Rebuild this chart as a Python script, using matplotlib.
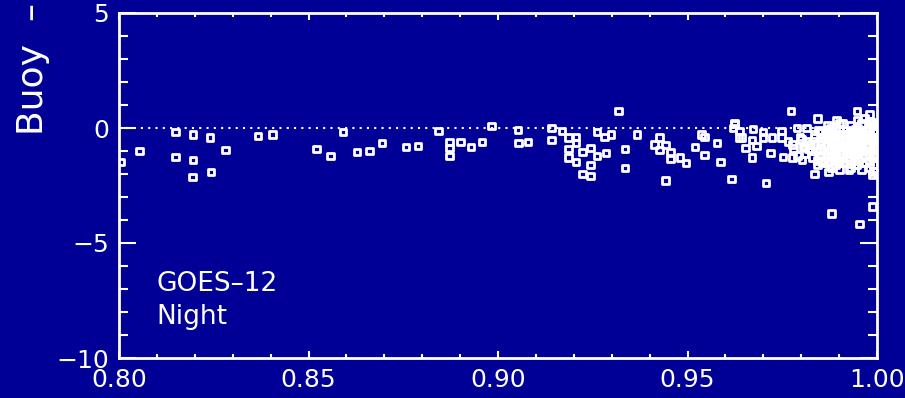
import matplotlib
matplotlib.use("Agg")
import matplotlib.pyplot as plt
from matplotlib.ticker import MultipleLocator, FormatStrFormatter


BG = "#000096"
FG = "white"

# scattered points (x = clear-sky fraction, y = buoy - sat)
x_sparse = [
    0.8150, 0.8195, 0.8240, 0.8367, 0.8406, 0.8055, 0.8005, 0.8150, 0.8195, 0.8282,
    0.8243, 0.8193, 0.8522, 0.8557,
    0.8591, 0.8844, 0.8982, 0.9053, 0.8628, 0.8660, 0.8694, 0.8757, 0.8789, 0.8873,
    0.8873, 0.8873, 0.8902, 0.8929, 0.8958, 0.9055, 0.9079,
    0.9317, 0.9142, 0.9169, 0.9142, 0.9185, 0.9206, 0.9206, 0.9185, 0.9224, 0.9245,
    0.9185, 0.9206, 0.9261, 0.9282, 0.9298, 0.9261, 0.9285, 0.9245, 0.9224, 0.9245,
    0.9335, 0.9335, 0.9367, 0.9427, 0.9412, 0.9441, 0.9427, 0.9456, 0.9456, 0.9480,
    0.9496, 0.9441, 0.9536, 0.9544, 0.9520, 0.9544, 0.9578, 0.9588, 0.9617, 0.9623,
    0.9620, 0.9636,
    0.9773, 0.9844, 0.9947, 0.9625, 0.9638, 0.9644, 0.9652, 0.9673, 0.9670, 0.9681,
    0.9699, 0.9699, 0.9723, 0.9749, 0.9749, 0.9720, 0.9670, 0.9752, 0.9776, 0.9776,
    0.9789, 0.9797, 0.9815, 0.9810, 0.9802, 0.9836, 0.9842, 0.9836, 0.9876, 0.9894,
    0.9902, 0.9871, 0.9887, 0.9947, 0.9966, 0.9981, 0.9989, 0.9926, 0.9947, 0.9987,
    0.9707, 0.9879, 0.9953, 0.9989,
]
y_sparse = [
    -0.17, -0.30, -0.43, -0.35, -0.30, -1.00, -1.48, -1.26, -1.39, -0.96,
    -1.91, -2.13, -0.91, -1.22,
    -0.17, -0.13, 0.09, -0.09, -1.04, -1.00, -0.65, -0.83, -0.78, -0.61,
    -0.87, -1.22, -0.61, -0.83, -0.61, -0.65, -0.61,
    0.74, 0.00, -0.13, -0.52, -0.43, -0.39, -0.65, -0.91, -1.04, -0.87,
    -1.30, -1.48, -0.17, -0.39, -0.30, -1.22, -1.09, -1.61, -2.00, -2.09,
    -0.91, -1.74, -0.30, -0.43, -0.70, -0.74, -0.96, -1.04, -1.35, -1.30,
    -1.52, -2.30, -0.30, -0.39, -0.83, -1.17, -0.65, -1.48, -2.22, 0.17,
    0.00, -0.43,
    0.74, 0.43, 0.74, 0.22, -0.13, -0.43, -0.87, -0.04, -0.52, -0.78,
    -0.17, -0.43, -0.43, -0.13, -0.43, -1.09, -1.30, -1.26, -1.30, -0.70,
    0.00, -0.39, 0.00, -0.83, -1.39, -0.30, -1.61, -2.00, 0.00, 0.35,
    0.22, -1.91, -1.09, 0.35, 0.43, 0.57, 0.26, -1.83, -1.61, -2.04,
    -2.39, -3.70, -4.17, -3.43,
]

# dense cluster near full clear-sky fraction
x_dense = [
    0.9765, 0.9780, 0.9800, 0.9810, 0.9825, 0.9830, 0.9835, 0.9840, 0.9845,
    0.9790, 0.9805, 0.9815, 0.9820, 0.9828, 0.9838, 0.9842,
    0.9850, 0.9850, 0.9850, 0.9850, 0.9853, 0.9856,
    0.9860, 0.9860, 0.9860, 0.9864, 0.9866,
    0.9870, 0.9870, 0.9870, 0.9870, 0.9870, 0.9874, 0.9876,
    0.9880, 0.9880, 0.9880, 0.9880, 0.9880, 0.9884, 0.9886,
    0.9890, 0.9890, 0.9890, 0.9890, 0.9890, 0.9894, 0.9896,
    0.9900, 0.9900, 0.9900, 0.9900, 0.9900, 0.9904, 0.9906,
    0.9910, 0.9910, 0.9910, 0.9910, 0.9910, 0.9914, 0.9916,
    0.9920, 0.9920, 0.9920, 0.9920, 0.9924, 0.9926, 0.9925,
    0.9930, 0.9930, 0.9930, 0.9930, 0.9930, 0.9930, 0.9934,
    0.9940, 0.9940, 0.9940, 0.9940, 0.9943, 0.9945, 0.9946,
    0.9950, 0.9950, 0.9950, 0.9950, 0.9950, 0.9954, 0.9956,
    0.9960, 0.9960, 0.9960, 0.9960, 0.9960, 0.9960, 0.9964,
    0.9970, 0.9970, 0.9970, 0.9970, 0.9970, 0.9974, 0.9976,
    0.9980, 0.9980, 0.9980, 0.9980, 0.9980, 0.9980, 0.9980, 0.9984,
    0.9990, 0.9990, 0.9990, 0.9990, 0.9990, 0.9990, 0.9990, 0.9993,
    0.9995, 0.9995, 0.9995, 0.9995, 0.9995, 0.9997, 0.9997,
]
y_dense = [
    -0.6, -0.9, -0.5, -1.1, -0.7, -1.3, -0.4, -1.0, -0.1,
    -1.2, -0.8, -0.6, -0.9, -1.0, -0.7, -1.4,
    -0.2, -0.6, -0.9, -1.2, -0.4, -1.5,
    -0.4, -1.0, -1.4, -0.7, -0.1,
    0.1, -0.3, -0.7, -1.1, -1.5, -0.5, -0.9,
    -0.2, -0.5, -0.8, -1.3, -1.7, -1.0, -0.35,
    0.0, -0.4, -0.9, -1.2, -1.6, -0.65, -1.4,
    -0.1, -0.6, -1.0, -1.4, -1.8, -0.3, -0.8,
    0.2, -0.3, -0.7, -1.1, -1.5, -0.5, -0.9,
    -0.1, -0.5, -0.9, -1.3, -0.3, -0.7, -1.1,
    0.1, -0.2, -0.6, -1.0, -1.4, -1.7, -0.4,
    -0.3, -0.8, -1.2, -1.6, -0.05, -0.55, -1.0,
    0.0, -0.4, -0.7, -1.1, -1.4, -0.2, -0.9,
    0.2, -0.2, -0.6, -0.9, -1.3, -1.8, -0.4,
    -0.1, -0.5, -0.8, -1.2, -1.5, -0.3, -1.0,
    0.3, 0.0, -0.3, -0.7, -1.0, -1.4, -1.7, -0.5,
    0.1, -0.2, -0.5, -0.9, -1.2, -1.6, -1.9, -0.7,
    -0.1, -0.4, -0.8, -1.1, -1.3, 0.2, -0.6,
]

x_lim = [0.80, 1.00]
y_lim = [-10, 5]
y_label = "Buoy  \u2013"
sat_name = "GOES\u201312"
period = "Night"


def make_plot():
    W, H = 905, 398
    fig = plt.figure(figsize=(W / 100, H / 100), dpi=100, facecolor=BG)
    ax = fig.add_axes([119 / W, 1 - 358 / H, 758 / W, 345 / H])
    ax.set_facecolor(BG)

    ax.axhline(0, color=FG, lw=1.5, dashes=(1, 2.5), zorder=1)

    ax.scatter(x_sparse + x_dense, y_sparse + y_dense, marker="s", s=24,
               facecolors="none", edgecolors=FG, linewidths=2.0, zorder=2,
               clip_on=True)

    ax.set_xlim(x_lim)
    ax.set_ylim(y_lim)
    ax.xaxis.set_major_locator(MultipleLocator(0.05))
    ax.xaxis.set_minor_locator(MultipleLocator(0.01))
    ax.xaxis.set_major_formatter(FormatStrFormatter("%.2f"))
    ax.yaxis.set_major_locator(MultipleLocator(5))
    ax.yaxis.set_minor_locator(MultipleLocator(1))

    for s in ax.spines.values():
        s.set_color(FG)
        s.set_linewidth(2)

    ax.tick_params(axis="both", which="both", direction="in", colors=FG,
                   top=True, right=True, width=1.5, labelsize=18)
    ax.tick_params(axis="x", which="major", length=5, pad=7)
    ax.tick_params(axis="x", which="minor", length=3)
    ax.tick_params(axis="y", which="major", length=12, pad=7)
    ax.tick_params(axis="y", which="minor", length=6.5)

    fig.text(33 / W, 1 - 135 / H, y_label, rotation=90, color=FG,
             fontsize=26, ha="center", va="bottom")
    fig.text(156 / W, 1 - 291 / H, sat_name, color=FG, fontsize=19,
             ha="left", va="baseline")
    fig.text(156 / W, 1 - 324 / H, period, color=FG, fontsize=19,
             ha="left", va="baseline")

    fig.savefig("out.png", dpi=100, facecolor=BG)


if __name__ == "__main__":
    make_plot()
